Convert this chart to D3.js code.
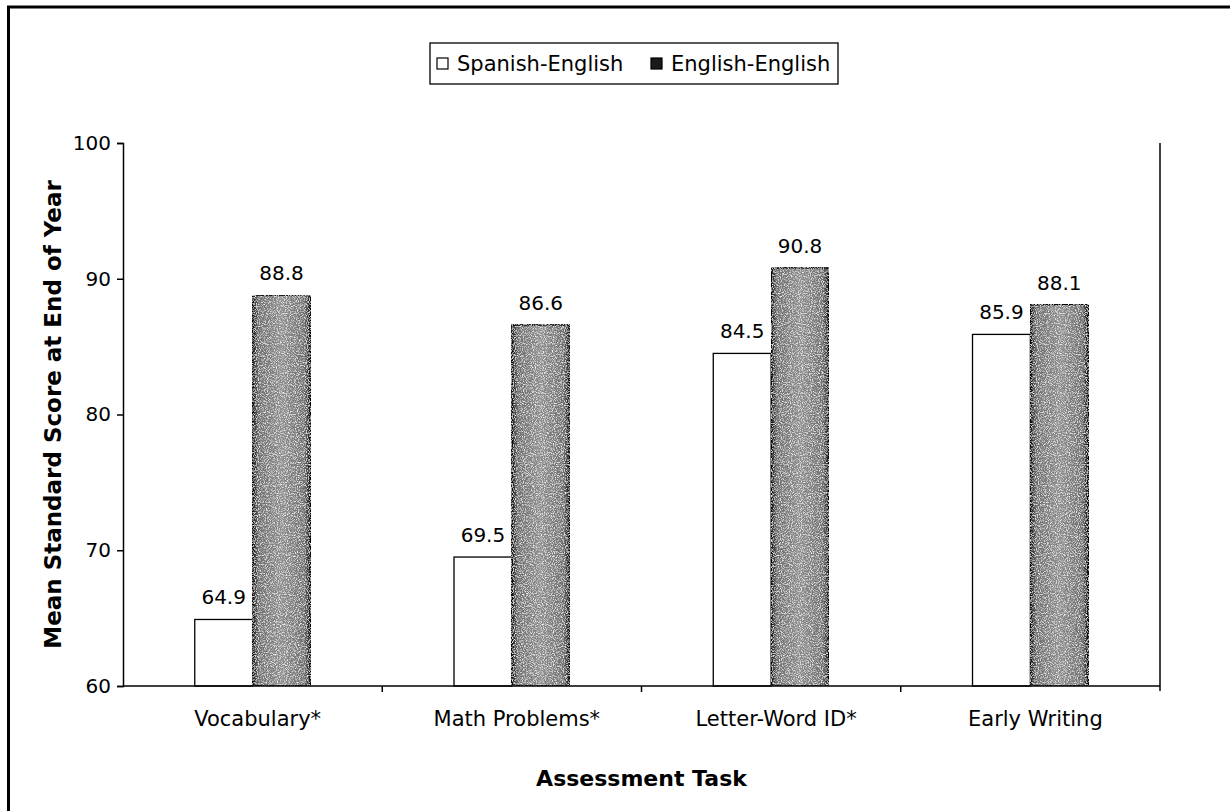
<!DOCTYPE html>
<meta charset="utf-8">
<style>
body { margin: 0; background: #fff; }
text { font-family: "DejaVu Sans", Verdana, sans-serif; fill: #000; }
.axis path, .axis line { stroke: #000; stroke-width: 1.5px; }
</style>
<body>
<script src="https://d3js.org/d3.v7.min.js"></script>
<script>

// data
var tasks = ["Vocabulary*", "Math Problems*", "Letter-Word ID*", "Early Writing"];
var series = ["Spanish-English", "English-English"];
var spanishEnglish = [64.9, 69.5, 84.5, 85.9];
var englishEnglish = [88.8, 86.6, 90.8, 88.1];
var yTicks = [60, 70, 80, 90, 100];

var rows = tasks.map(function(t, i) {
  return {task: t, values: [
    {key: series[0], value: spanishEnglish[i]},
    {key: series[1], value: englishEnglish[i]}
  ]};
});

var W = 1230, H = 811;
var plot = {left: 123, right: 1160, top: 143, bottom: 686};

var svg = d3.select("body").append("svg")
    .attr("width", W)
    .attr("height", H);

// speckled fill for the dark bars
var defs = svg.append("defs");
var grad = defs.append("linearGradient").attr("id", "barGrad");
grad.append("stop").attr("offset", "0%").attr("stop-color", "#111");
grad.append("stop").attr("offset", "10%").attr("stop-color", "#6e6e6e");
grad.append("stop").attr("offset", "50%").attr("stop-color", "#8e8e8e");
grad.append("stop").attr("offset", "90%").attr("stop-color", "#6e6e6e");
grad.append("stop").attr("offset", "100%").attr("stop-color", "#111");

var noise = defs.append("filter").attr("id", "speckle")
    .attr("x", 0).attr("y", 0).attr("width", 1).attr("height", 1);
noise.append("feTurbulence")
    .attr("type", "fractalNoise")
    .attr("baseFrequency", 0.9)
    .attr("numOctaves", 2)
    .attr("seed", 3)
    .attr("result", "n");
noise.append("feColorMatrix")
    .attr("in", "n")
    .attr("type", "matrix")
    .attr("values", "1 1 1 0 0  1 1 1 0 0  1 1 1 0 0  0 0 0 -2.4 1.3")
    .attr("result", "dots");
noise.append("feComposite")
    .attr("in", "dots")
    .attr("in2", "SourceGraphic")
    .attr("operator", "in")
    .attr("result", "dotsIn");
noise.append("feMerge").call(function(m) {
  m.append("feMergeNode").attr("in", "SourceGraphic");
  m.append("feMergeNode").attr("in", "dotsIn");
});

// outer frame (runs off the right and bottom of the picture)
svg.append("rect")
    .attr("x", 8.5).attr("y", 7)
    .attr("width", W + 20).attr("height", H + 20)
    .attr("fill", "none")
    .attr("stroke", "#000")
    .attr("stroke-width", 3);

// scales
var x0 = d3.scaleBand()
    .domain(tasks)
    .range([plot.left, plot.right]);

var x1 = d3.scaleBand()
    .domain(series)
    .range([0, x0.bandwidth()])
    .paddingInner(0)
    .paddingOuter(1.24);

var y = d3.scaleLinear()
    .domain([60, 100])
    .range([plot.bottom, plot.top]);

// bars
var groups = svg.selectAll(".grp")
    .data(rows)
  .enter().append("g")
    .attr("class", "grp")
    .attr("transform", function(d) { return "translate(" + x0(d.task) + ",0)"; });

groups.selectAll("rect")
    .data(function(d) { return d.values; })
  .enter().append("rect")
    .attr("x", function(d) { return x1(d.key); })
    .attr("width", x1.bandwidth())
    .attr("y", function(d) { return y(d.value); })
    .attr("height", function(d) { return y(60) - y(d.value); })
    .attr("fill", function(d) { return d.key == series[0] ? "#fff" : "url(#barGrad)"; })
    .attr("stroke", "#000")
    .attr("stroke-width", function(d) { return d.key == series[0] ? 1.3 : 1.5; })
    .attr("filter", function(d) { return d.key == series[0] ? null : "url(#speckle)"; });

// value labels
groups.selectAll(".lbl")
    .data(function(d) { return d.values; })
  .enter().append("text")
    .attr("class", "lbl")
    .attr("x", function(d) { return x1(d.key) + x1.bandwidth() / 2; })
    .attr("y", function(d) { return y(d.value) - 15; })
    .attr("text-anchor", "middle")
    .style("font-size", "20px")
    .text(function(d) { return d.value.toFixed(1); });

// y axis
var yAxis = svg.append("g")
    .attr("class", "axis")
    .attr("transform", "translate(" + plot.left + ",0)")
    .call(d3.axisLeft(y).tickValues(yTicks).tickSize(6).tickSizeOuter(6).tickPadding(6));
yAxis.selectAll("text").style("font-size", "20px").style("font-family", "DejaVu Sans, sans-serif");

// x axis, ticks between categories
var xAxis = svg.append("g")
    .attr("class", "axis")
    .attr("transform", "translate(0," + plot.bottom + ")");
xAxis.append("line")
    .attr("x1", plot.left).attr("x2", plot.right)
    .attr("y1", 0).attr("y2", 0);
xAxis.selectAll(".sep")
    .data(tasks.slice(1))
  .enter().append("line")
    .attr("class", "sep")
    .attr("x1", function(d) { return x0(d); })
    .attr("x2", function(d) { return x0(d); })
    .attr("y1", 0).attr("y2", 6);
xAxis.selectAll(".cat")
    .data(tasks)
  .enter().append("text")
    .attr("class", "cat")
    .attr("x", function(d) { return x0(d) + x0.bandwidth() / 2 + 5; })
    .attr("y", 40)
    .attr("text-anchor", "middle")
    .style("font-size", "21px")
    .text(function(d) { return d; });

// right border of plot area
svg.append("line")
    .attr("x1", plot.right).attr("x2", plot.right)
    .attr("y1", plot.top).attr("y2", plot.bottom + 5)
    .attr("stroke", "#000")
    .attr("stroke-width", 1.5);

// axis titles
svg.append("text")
    .attr("x", (plot.left + plot.right) / 2)
    .attr("y", 786)
    .attr("text-anchor", "middle")
    .style("font-size", "22px")
    .style("font-weight", "bold")
    .text("Assessment Task");

svg.append("text")
    .attr("transform", "translate(61," + ((plot.top + plot.bottom) / 2) + ") rotate(-90)")
    .attr("text-anchor", "middle")
    .style("font-size", "23px")
    .style("font-weight", "bold")
    .text("Mean Standard Score at End of Year");

// legend
var legend = svg.append("g").attr("transform", "translate(430,43)");
legend.append("rect")
    .attr("width", 408).attr("height", 41)
    .attr("fill", "#fff")
    .attr("stroke", "#000")
    .attr("stroke-width", 1.3);

var legX = [7, 221];
series.forEach(function(s, i) {
  legend.append("rect")
      .attr("x", legX[i]).attr("y", 15)
      .attr("width", 11).attr("height", 11)
      .attr("fill", i == 0 ? "#fff" : "#1a1a1a")
      .attr("stroke", "#000")
      .attr("stroke-width", 1.2);
  legend.append("text")
      .attr("x", legX[i] + 20)
      .attr("y", 28)
      .style("font-size", "21px")
      .text(s);
});

</script>
</body>
